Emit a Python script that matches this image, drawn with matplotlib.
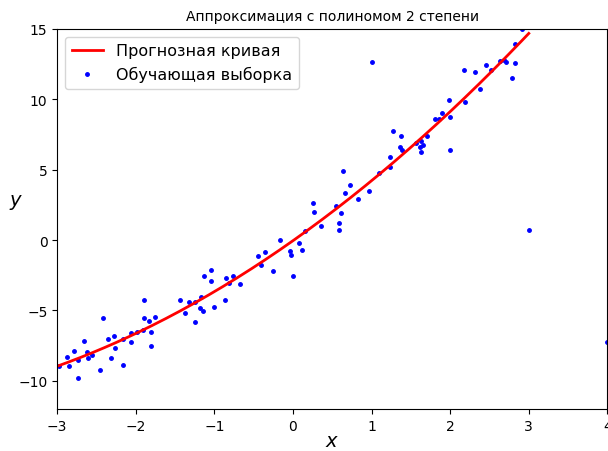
import numpy as np
import matplotlib
matplotlib.use("Agg")
import matplotlib.pyplot as plt

# training sample
x_train = [-2.98, -2.88, -2.85, -2.79, -2.73, -2.73, -2.66, -2.62, -2.61, -2.56,
           -2.46, -2.42, -2.35, -2.31, -2.28, -2.27, -2.16, -2.16, -2.06, -2.06,
           -1.98, -1.91, -1.90, -1.90, -1.83, -1.81, -1.80, -1.75,
           -1.44, -1.37, -1.32, -1.25, -1.25, -1.18, -1.17, -1.14, -1.13, -1.04,
           -1.04, -1.01, -0.86, -0.85, -0.81, -0.76, -0.67,
           -0.44, -0.41, -0.35, -0.25, -0.16, -0.04, -0.02, 0.00, 0.08, 0.11,
           0.15, 0.25, 0.27, 0.36, 0.55, 0.59, 0.59, 0.61, 0.64, 0.66,
           0.73, 0.83, 0.97, 1.10, 1.24, 1.24, 1.27, 1.36, 1.38, 1.39,
           1.56, 1.62, 1.63, 1.63, 1.65, 1.71, 1.81, 1.86, 1.89,
           1.98, 2.00, 2.00, 2.18, 2.19, 2.32, 2.38, 2.46, 2.52, 2.63,
           2.69, 2.71, 2.79, 2.82, 2.82, 2.92,
           1.00, 3.00, 4.00]
y_train = [-8.97, -8.31, -8.97, -7.86, -8.50, -9.78, -7.17, -7.93, -8.36, -8.19,
           -9.23, -5.54, -7.03, -8.40, -6.79, -7.65, -8.88, -7.03, -6.63, -7.27,
           -6.56, -6.39, -4.24, -5.54, -5.78, -7.55, -6.56, -5.44,
           -4.24, -5.16, -4.38, -4.38, -5.85, -4.85, -4.07, -5.02, -2.53, -2.15,
           -2.91, -4.78, -4.24, -2.70, -3.08, -2.53, -3.15,
           -1.16, -1.78, -0.83, -2.22, 0.02, -0.76, -1.07, -2.53, -0.21, -0.69,
           0.62, 2.60, 2.01, 1.02, 2.39, 1.18, 0.71, 1.94, 4.88, 3.32,
           3.88, 2.94, 3.48, 4.78, 5.87, 5.16, 7.72, 6.63, 7.39, 6.39,
           6.91, 6.58, 7.01, 6.23, 6.77, 7.39, 8.57, 8.57, 9.00,
           9.94, 8.71, 6.41, 12.10, 9.80, 11.93, 10.72, 12.41, 12.10, 12.74,
           12.81, 12.64, 11.48, 12.57, 13.94, 14.96,
           12.64, 0.71, -7.24]

x_train = np.array(x_train)
y_train = np.array(y_train)

# degree-2 fit on the main cloud (last three points are outliers)
coef = np.polyfit(x_train[:-3], y_train[:-3], 2)
x_new = np.linspace(-3, 3, 200)
y_new = np.polyval(coef, x_new)

fig = plt.figure(figsize=(6.08, 4.52), dpi=100)
ax = fig.add_axes([0.094, 0.093, 0.905, 0.841])
ax.plot(x_train, y_train, "b.", markersize=5, label="Обучающая выборка")
ax.plot(x_new, y_new, "r-", linewidth=2, label="Прогнозная кривая")
ax.set_xlim(-3, 4)
ax.set_ylim(-12, 15)
ax.set_xlabel("$x$", fontsize=14)
ax.xaxis.set_label_coords(0.5, -0.057)
ax.set_ylabel("$y$", fontsize=14, rotation=0)
ax.yaxis.set_label_coords(-0.075, 0.52)
ax.set_title("Аппроксимация с полиномом 2 степени", fontsize=10)
h, l = ax.get_legend_handles_labels()
ax.legend(h[::-1], l[::-1], loc="upper left", fontsize=11.5)
fig.savefig("out.png", dpi=100)
